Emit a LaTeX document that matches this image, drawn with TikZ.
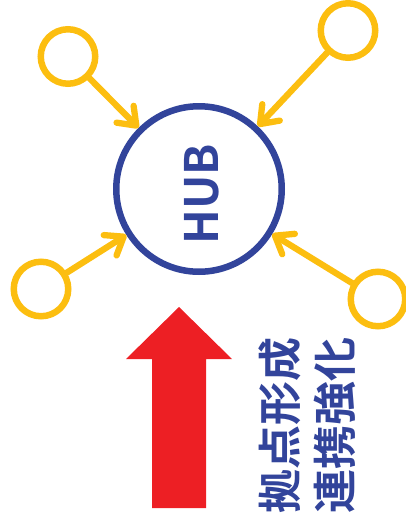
\documentclass[tikz,border=0pt]{standalone}
\usepackage{fontspec}
\newfontfamily\cjk{Noto Sans CJK JP Bold}
\usetikzlibrary{arrows.meta}
\definecolor{hubblue}{RGB}{50,68,155}
\definecolor{gold}{RGB}{252,190,16}
\definecolor{redarrow}{RGB}{237,31,36}
\tikzset{
  hubcircle/.style={circle, draw=hubblue, line width=6.5pt, minimum size=165.5pt, inner sep=0pt},
  smallcircle/.style={circle, draw=gold, line width=6.5pt, minimum size=54.5pt, inner sep=0pt},
  feed/.style={draw=gold, line width=6.3pt, line cap=round,
    -{Straight Barb[length=16pt,width=24pt,round]}},
  hubtext/.style={text=hubblue, font=\cjk\fontsize{46}{46}\selectfont, rotate=90, inner sep=0pt},
  bigtext/.style={text=hubblue, font=\cjk\fontsize{44}{55}\selectfont, rotate=90, align=center, inner sep=0pt},
}
\begin{document}
\begin{tikzpicture}[x=1pt,y=-1pt]
\useasboundingbox (0,0) rectangle (405,522);
\node[hubcircle] (hub) at (199,189) {};
\node[hubtext] (hublabel) at (202,194) {HUB};
\node[smallcircle] (tl) at (68,56.5) {};
\node[smallcircle] (tr) at (348,30.5) {};
\node[smallcircle] (bl) at (41,289) {};
\node[smallcircle] (br) at (378,299) {};
\draw[feed] (tl) -- (hub);
\draw[feed] (tr) -- (hub);
\draw[feed] (bl) -- (hub);
\draw[feed] (br) -- (hub);
\fill[redarrow] (152,508) -- (152,359) -- (126,359) -- (179,307) -- (232,359) -- (206,359) -- (206,508) -- cycle;
\node[bigtext] (caption) at (307,425.5) {拠点形成\\連携強化};
\end{tikzpicture}
\end{document}
